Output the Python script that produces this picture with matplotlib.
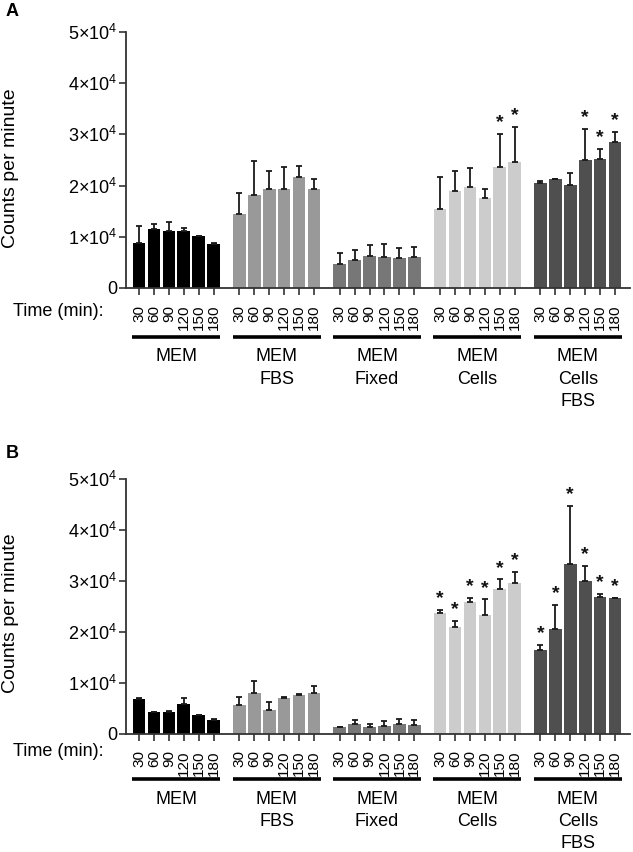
import numpy as np
import matplotlib.pyplot as plt
from matplotlib.ticker import FuncFormatter
import matplotlib.transforms as mtransforms

plt.rcParams['font.family'] = ['Liberation Sans', 'DejaVu Sans']
plt.rcParams['mathtext.fontset'] = 'custom'
plt.rcParams['mathtext.rm'] = 'Liberation Sans'
plt.rcParams['mathtext.it'] = 'Liberation Sans'
plt.rcParams['mathtext.default'] = 'regular'

# data
times = ['30', '60', '90', '120', '150', '180']
groups = ['MEM', 'MEM\nFBS', 'MEM\nFixed', 'MEM\nCells', 'MEM\nCells\nFBS']
colors = ['#000000', '#999999', '#777777', '#cccccc', '#4f4f4f']

# panel A means / upper sd
mem_a = [8700, 11450, 11100, 11100, 10150, 8600]
mem_a_err = [3400, 1100, 1700, 600, 100, 250]
fbs_a = [14450, 18150, 19250, 19400, 21750, 19250]
fbs_a_err = [4150, 6600, 3600, 4150, 2100, 2000]
fixed_a = [4600, 5400, 6200, 6000, 5900, 6000]
fixed_a_err = [2150, 2000, 2200, 2550, 1850, 2100]
cells_a = [15400, 18900, 19700, 17600, 23700, 24550]
cells_a_err = [6350, 4000, 3800, 1750, 6400, 6900]
cellsfbs_a = [20550, 21200, 20100, 25000, 25150, 28600]
cellsfbs_a_err = [400, 150, 2300, 6050, 2000, 1950]
stars_a = [[0]*6, [0]*6, [0]*6, [0, 0, 0, 0, 1, 1], [0, 0, 0, 1, 1, 1]]

# panel B
mem_b = [6800, 4200, 4300, 5850, 3550, 2650]
mem_b_err = [100, 80, 80, 1200, 150, 250]
fbs_b = [5650, 8000, 4650, 6950, 7500, 7900]
fbs_b_err = [1500, 2300, 1500, 250, 200, 1350]
fixed_b = [1250, 1900, 1300, 1550, 1800, 1600]
fixed_b_err = [100, 800, 500, 850, 1000, 1050]
cells_b = [23700, 20900, 25800, 23250, 28250, 29550]
cells_b_err = [600, 1200, 850, 3050, 1950, 2150]
cellsfbs_b = [16450, 20450, 33300, 29850, 26700, 26500]
cellsfbs_b_err = [1000, 4700, 11350, 2950, 700, 100]
stars_b = [[0]*6, [0]*6, [0]*6, [1]*6, [1]*6]

panel_a = [mem_a, fbs_a, fixed_a, cells_a, cellsfbs_a]
panel_a_err = [mem_a_err, fbs_a_err, fixed_a_err, cells_a_err, cellsfbs_a_err]
panel_b = [mem_b, fbs_b, fixed_b, cells_b, cellsfbs_b]
panel_b_err = [mem_b_err, fbs_b_err, fixed_b_err, cells_b_err, cellsfbs_b_err]

G = 6.72  # group spacing in bar slots
W = 852.0

fig = plt.figure(figsize=(6.33, 8.52), dpi=100)
ax_a = fig.add_axes([126/633, 1-288/W, 504/633, 256/W])
ax_b = fig.add_axes([126/633, 1-733.5/W, 504/633, 255/W])


def ytick(v, pos):
    if v == 0:
        return '0'
    return r'$%d{\times}10^{4}$' % round(v/1e4)


def draw(ax, vals, errs, stars, line_y, lab_y, time_y, label, label_y, ylab_y):
    xs_all = []
    for g in range(5):
        xs = np.arange(6) + g*G
        xs_all.extend(xs)
        ax.bar(xs, vals[g], width=0.85, color=colors[g], zorder=2)
        ax.errorbar(xs, vals[g], yerr=[np.zeros(6), errs[g]], fmt='none',
                    ecolor='#1a1a1a', elinewidth=1.3, capsize=2.5, capthick=1.3, zorder=3)
        for i in range(6):
            if stars[g][i]:
                ax.annotate('*', (xs[i], vals[g][i] + errs[g][i]), xytext=(0, 2),
                            textcoords='offset points', ha='center', va='bottom',
                            fontsize=14, fontweight='bold', color='#111')
        trans = mtransforms.blended_transform_factory(ax.transData, fig.transFigure)
        ax.plot([xs[0]-0.45, xs[-1]+0.45], [1-line_y/W]*2, color='black', lw=2.6,
                transform=trans, clip_on=False, solid_capstyle='butt')
        for k, part in enumerate(groups[g].split('\n')):
            ax.text(xs.mean(), 1-(lab_y + 22.5*k)/W, part, transform=trans,
                    ha='center', va='center', fontsize=13)
    ax.set_xlim(-0.87, 4*G + 5 + 1.0)
    ax.set_ylim(0, 50000)
    ax.set_yticks(np.arange(0, 50001, 10000))
    ax.yaxis.set_major_formatter(FuncFormatter(ytick))
    ax.set_xticks(xs_all)
    ax.set_xticklabels(times*5, rotation=90, fontsize=11)
    ax.tick_params(axis='x', length=5, width=1.2, pad=7, color='#333')
    ax.tick_params(axis='y', length=5, width=1.2, pad=1.5, labelsize=13, color='#333')
    for s in ['top', 'right']:
        ax.spines[s].set_visible(False)
    for s in ['left', 'bottom']:
        ax.spines[s].set_linewidth(1.3)
        ax.spines[s].set_color('#333')
    fig.text(13/633, 1-time_y/W, 'Time (min):', ha='left', va='center', fontsize=13)
    fig.text(12/633, 1-label_y/W, label, ha='center', va='center', fontsize=13,
             fontweight='bold')
    fig.text(11/633, 1-ylab_y/W, 'Counts per minute', rotation=90, ha='center',
             va='center', fontsize=14)


draw(ax_a, panel_a, panel_a_err, stars_a, 336.7, 356.7, 311.7, 'A', 12, 168)
draw(ax_b, panel_b, panel_b_err, stars_b, 779, 799, 751.7, 'B', 454, 613.5)

fig.savefig('out.png', dpi=100)
